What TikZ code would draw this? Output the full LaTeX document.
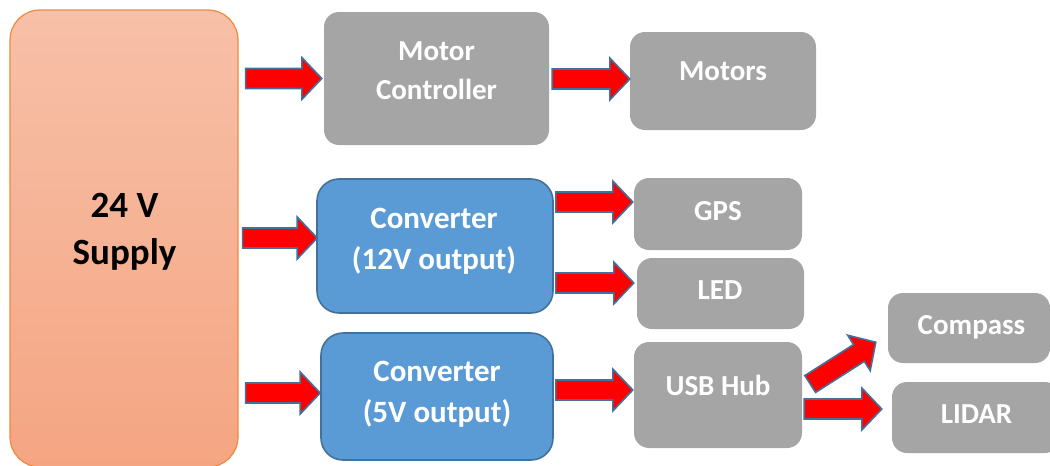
\documentclass[tikz,border=0pt]{standalone}
\usepackage{fontspec}
\setmainfont{Carlito}
\usetikzlibrary{calc}
\definecolor{boxgray}{HTML}{A5A5A5}
\definecolor{convblue}{HTML}{5B9BD5}
\definecolor{convborder}{HTML}{41719C}
\definecolor{supplyborder}{HTML}{F0883E}
\definecolor{supplytop}{HTML}{F7C0A8}
\definecolor{supplybot}{HTML}{F5A582}
\definecolor{arrowborder}{HTML}{41719C}
\definecolor{arrowred}{HTML}{FF0000}
\newcommand\blockarrow[2]{%
  \draw[bigarrow]
    ($(#1)!10pt!90:(#2)$) --
    ($(#2)!20pt!(#1)!10pt!-90:(#1)$) --
    ($(#2)!20pt!(#1)!21pt!-90:(#1)$) --
    (#2) --
    ($(#2)!20pt!(#1)!21pt!90:(#1)$) --
    ($(#2)!20pt!(#1)!10pt!90:(#1)$) --
    ($(#1)!10pt!-90:(#2)$) -- cycle;}
\begin{document}
\begin{tikzpicture}[x=1pt,y=-1pt,
  graybox/.style={fill=boxgray, rounded corners=15pt, inner sep=0pt},
  convbox/.style={fill=convblue, draw=convborder, line width=1.6pt, rounded corners=22pt, inner sep=0pt},
  supplybox/.style={top color=supplytop, bottom color=supplybot, draw=supplyborder, line width=1.2pt, rounded corners=30pt, inner sep=0pt},
  wtext/.style={text=white, font=\fontsize{29}{39}\selectfont\bfseries, align=center, inner sep=0pt},
  ctext/.style={text=white, font=\fontsize{31}{41}\selectfont\bfseries, align=center, inner sep=0pt},
  stext/.style={text=black, font=\fontsize{37}{47}\selectfont\bfseries, align=center, inner sep=0pt},
  bigarrow/.style={fill=arrowred, draw=arrowborder, line width=1.6pt, line join=miter}
]
\clip (0,0) rectangle (1050,466);
% boxes
\node[supplybox, minimum width=228pt, minimum height=457pt] (supply) at (124,238.5) {};
\node[graybox, minimum width=225pt, minimum height=133pt] (mc) at (436.5,78.5) {};
\node[graybox, minimum width=186pt, minimum height=98pt] (motors) at (723,81) {};
\node[convbox, minimum width=236pt, minimum height=134pt] (conv12) at (435,246) {};
\node[graybox, minimum width=168pt, minimum height=72pt] (gps) at (718,214) {};
\node[graybox, minimum width=167pt, minimum height=71pt] (led) at (720.5,293.5) {};
\node[convbox, minimum width=232pt, minimum height=127pt] (conv5) at (437,396.5) {};
\node[graybox, minimum width=168pt, minimum height=106pt] (usb) at (718,395) {};
\node[graybox, minimum width=162pt, minimum height=70pt] (compass) at (969,328) {};
\node[graybox, minimum width=168pt, minimum height=71pt] (lidar) at (976,417.5) {};
% texts
\node[stext] (supplyt) at (124.5,232) {24 V\\Supply};
\node[wtext] (mct) at (436.5,70.5) {Motor\\Controller};
\node[wtext] (motorst) at (723,71.5) {Motors};
\node[ctext] (conv12t) at (434,241.5) {Converter\\(12V output)};
\node[wtext] (gpst) at (718,211) {GPS};
\node[wtext] (ledt) at (720,290) {LED};
\node[ctext] (conv5t) at (437,394) {Converter\\(5V output)};
\node[wtext] (usbt) at (718,385) {USB Hub};
\node[wtext] (compasst) at (971.5,327) {Compass};
\node[wtext] (lidart) at (976.5,414) {LIDAR};
% arrow end points
\coordinate (a1s) at ($(supply.east |- mc.west)+(7,0)$);
\coordinate (a1e) at ($(mc.west)+(-2,0)$);
\coordinate (a2s) at ($(mc.east |- 0,79)+(3,0)$);
\coordinate (a2e) at (motors.west |- 0,79);
\coordinate (a3s) at ($(supply.east |- 0,238)+(4,0)$);
\coordinate (a3e) at ($(conv12.west |- 0,238)+(1,0)$);
\coordinate (a4s) at ($(conv12.east |- 0,202)+(2,0)$);
\coordinate (a4e) at ($(gps.west |- 0,202)+(-1,0)$);
\coordinate (a5s) at ($(conv12.east |- 0,283)+(2,0)$);
\coordinate (a5e) at ($(led.west |- 0,283)+(-3,0)$);
\coordinate (a6s) at ($(supply.east |- 0,393)+(7,0)$);
\coordinate (a6e) at (conv5.west |- 0,393);
\coordinate (a7s) at ($(conv5.east |- 0,390)+(2,0)$);
\coordinate (a7e) at ($(usb.west |- 0,390)+(-1,0)$);
\coordinate (a8s) at ($(usb.east |- 0,409)+(2,0)$);
\coordinate (a8e) at ($(lidar.west |- 0,409)+(-10,0)$);
\coordinate (a9s) at ($(usb.east)+(8,-11)$);
\coordinate (a9e) at ($(compass.south west)+(-12,-21)$);
% arrows
\blockarrow{a1s}{a1e}
\blockarrow{a2s}{a2e}
\blockarrow{a3s}{a3e}
\blockarrow{a4s}{a4e}
\blockarrow{a5s}{a5e}
\blockarrow{a6s}{a6e}
\blockarrow{a7s}{a7e}
\blockarrow{a8s}{a8e}
\blockarrow{a9s}{a9e}
\end{tikzpicture}
\end{document}
